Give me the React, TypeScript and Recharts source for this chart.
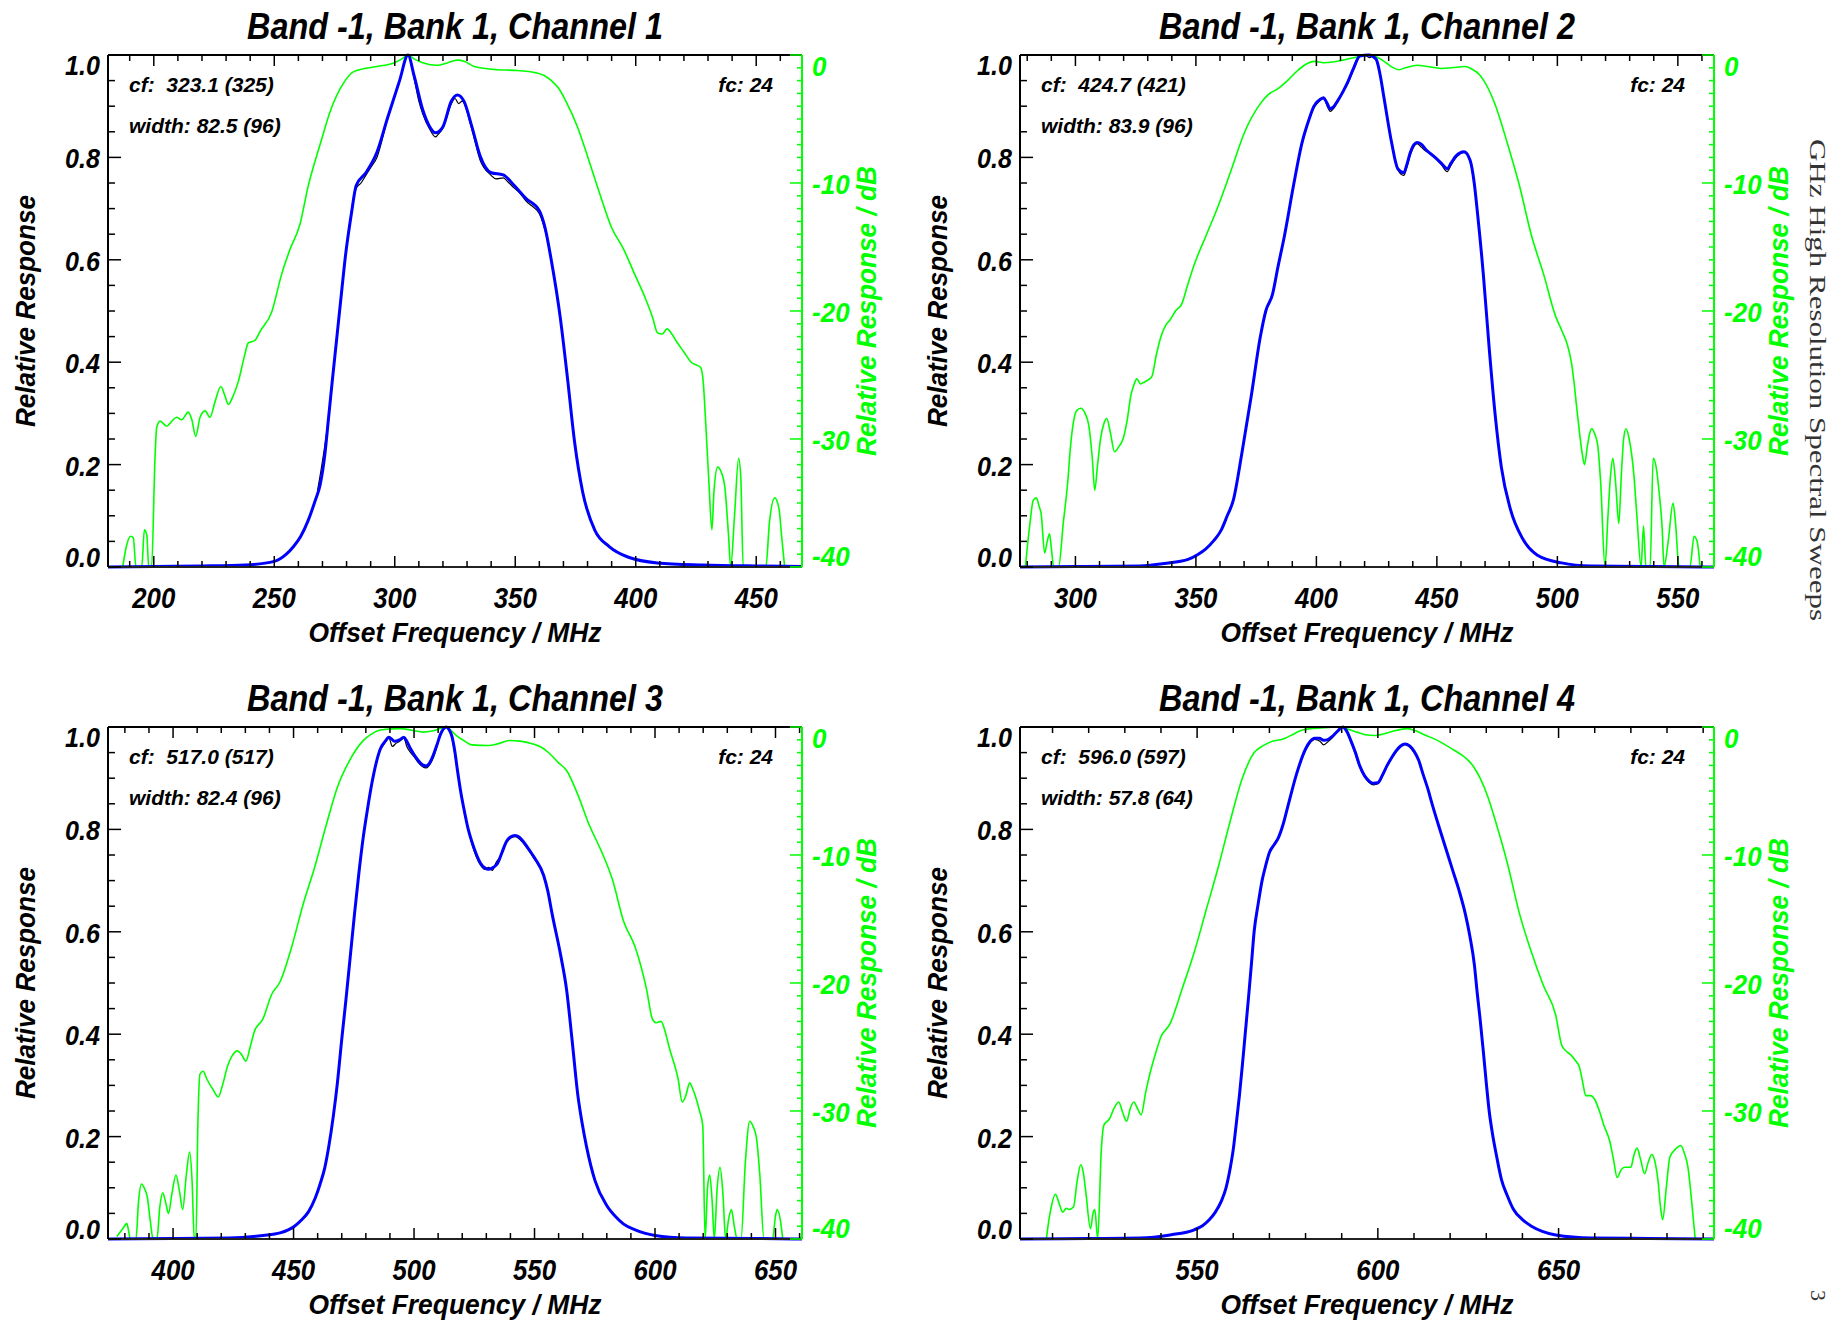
import React from 'react';
import { LineChart, Line, XAxis, YAxis } from 'recharts';

// ---------------- layout constants ----------------
const PANEL_W = 912;
const PANEL_H = 672;
const AX = 10; // axis band size given to each axis
const PLOT = { top: 55, left: 108, right: 110, bottom: 105 };
const M = { top: PLOT.top - AX, left: PLOT.left - AX, right: PLOT.right - AX, bottom: PLOT.bottom - AX };
const PLOT_W = PANEL_W - PLOT.left - PLOT.right;
const SANS = "'Liberation Sans', Arial, Helvetica, sans-serif";
const SERIF = "'Liberation Serif', 'Times New Roman', serif";
const GREEN = '#00ff00';
const BLUE = '#0000ff';

// ---------------- text / axes data ----------------
const titles = [
  'Band -1, Bank 1, Channel 1',
  'Band -1, Bank 1, Channel 2',
  'Band -1, Bank 1, Channel 3',
  'Band -1, Bank 1, Channel 4',
];
const cfLabels = ['cf:  323.1 (325)', 'cf:  424.7 (421)', 'cf:  517.0 (517)', 'cf:  596.0 (597)'];
const widthLabels = ['width: 82.5 (96)', 'width: 83.9 (96)', 'width: 82.4 (96)', 'width: 57.8 (64)'];
const fcLabels = ['fc: 24', 'fc: 24', 'fc: 24', 'fc: 24'];
const xDomains: [number, number][] = [
  [181, 469],
  [277, 565],
  [373, 661],
  [501, 693],
];
const xMajorTicks = [
  [200, 250, 300, 350, 400, 450],
  [300, 350, 400, 450, 500, 550],
  [400, 450, 500, 550, 600, 650],
  [550, 600, 650],
];
const xMinorStep = 10;
const yMajorTicks = [0, 0.2, 0.4, 0.6, 0.8, 1.0];
const yMinorStep = 0.05;
const dbMajorTicks = [-40, -30, -20, -10, 0];
const dbMinorStep = 1;
const xAxisTitle = 'Offset Frequency / MHz';
const yAxisTitle = 'Relative Response';
const dbAxisTitle = 'Relative Response / dB';
const sideText = 'GHz High Resolution Spectral Sweeps';
const pageNumber = '3';

type Pt = [number, number];

// ---------------- Channel 1 ----------------
const blue1: Pt[] = [
  [181, 0], [200, 0.001], [220, 0.002], [238, 0.004], [250, 0.011], [255, 0.025], [258, 0.04], [261, 0.06],
  [264, 0.09], [267, 0.13], [269, 0.16], [271, 0.22], [272.5, 0.29], [274, 0.36], [276, 0.45], [278, 0.54],
  [279.6, 0.61], [282, 0.69], [284, 0.745], [288, 0.77], [292.6, 0.81], [297, 0.877], [302, 0.95], [305.5, 1.0],
  [308, 0.96], [311.6, 0.893], [314.5, 0.86], [316.9, 0.848], [320, 0.86], [323.5, 0.91], [326, 0.922],
  [328.7, 0.91], [332, 0.86], [335.4, 0.803], [340, 0.77], [345, 0.766], [349.6, 0.745], [354.4, 0.72],
  [360, 0.696], [362.5, 0.66], [365, 0.598], [368.6, 0.49], [371.7, 0.368], [374.6, 0.245], [378, 0.146],
  [383, 0.072], [389, 0.04], [397, 0.019], [409, 0.008], [428, 0.004], [450, 0.002], [469, 0.001],
];
const black1: Pt[] = [
  [268, 0.15], [272.5, 0.29], [276, 0.45], [279.6, 0.61], [284, 0.74], [286, 0.75], [288, 0.765], [290, 0.78],
  [292.6, 0.8], [297, 0.875], [302, 0.948], [305.5, 1.0], [308, 0.955], [310, 0.91], [311.6, 0.885],
  [314.5, 0.855], [316.9, 0.84], [318, 0.845], [320, 0.857], [323.5, 0.905], [325, 0.915], [326.5, 0.905],
  [328, 0.91], [332, 0.855], [335.4, 0.795], [340, 0.765], [342, 0.758], [345, 0.76], [347, 0.752],
  [349.6, 0.74], [352, 0.73], [354.4, 0.715], [357, 0.705], [360, 0.69], [362.5, 0.655], [365, 0.598], [368.6, 0.49],
];
const green1: Pt[] = [
  [187.1, -40], [188.5, -38.5], [190.4, -37.6], [191.5, -37.7], [192.6, -40], [195, -40], [196.1, -37.1],
  [197.1, -37.5], [197.9, -40], [199.1, -40], [200.5, -31.5], [201.2, -29.1], [202.6, -28.6], [205.4, -29.0],
  [207.5, -28.6], [209.5, -28.3], [211.6, -28.5], [214.3, -27.9], [215.8, -28.5], [217.4, -29.8], [219.2, -28.3],
  [221.3, -27.8], [223.3, -28.3], [225.4, -27.1], [227.8, -25.9], [229.5, -26.6], [230.9, -27.3], [233, -26.6],
  [235.1, -25.5], [237.4, -23.7], [239.2, -22.5], [242, -22.3], [244.1, -21.6], [248.9, -20.1], [253.1, -17.1],
  [256.5, -15.2], [260.7, -13.2], [264, -10.3], [269, -7.0], [273.6, -4.2], [278.4, -2.3], [283, -1.3],
  [292.6, -0.9], [299.9, -0.6], [303, -0.3], [305.5, 0], [308, -0.3], [311.6, -0.6], [317.6, -0.8], [322, -0.6],
  [326, -0.4], [329, -0.5], [333, -0.9], [342.5, -1.15], [349.6, -1.2], [359, -1.4], [362, -1.6], [365, -2.0],
  [368, -2.6], [371, -3.6], [375.8, -5.6], [380.5, -8.2], [385, -10.8], [390, -13.5], [394.8, -15.1],
  [399.5, -17.1], [404, -19], [407, -20.5], [409, -21.7], [411, -21.8], [413, -21.4], [415, -21.8], [417, -22.4],
  [420, -23.2], [423, -24], [426.9, -24.4], [428, -25.5], [429, -28.6], [430.4, -33.5], [431.6, -37.1],
  [432.5, -34], [434, -32.2], [435.5, -32.6], [437, -33.8], [438.5, -37.5], [439.4, -40], [441, -36],
  [442.7, -31.5], [443.6, -33], [444.6, -40], [454, -40], [455.5, -36.5], [457.7, -34.6], [459.5, -35.5],
  [460.5, -37.5], [461.8, -40],
];

// ---------------- Channel 2 ----------------
const blue2: Pt[] = [
  [277, 0], [300, 0.001], [326.75, 0.002], [336.75, 0.007], [346.75, 0.015], [351, 0.025], [354, 0.035],
  [357.5, 0.052], [360.5, 0.072], [363, 0.1], [365.5, 0.13], [369, 0.22], [373, 0.335], [376.75, 0.45],
  [379, 0.5], [381.75, 0.532], [384, 0.585], [386.75, 0.647], [390.5, 0.745], [394, 0.828], [397, 0.875],
  [399, 0.9], [401.75, 0.914], [403, 0.916], [404.5, 0.905], [405.75, 0.895], [407, 0.898], [408.75, 0.91],
  [411, 0.928], [413, 0.947], [415.5, 0.975], [418, 0.998], [421.75, 1.0], [424.75, 0.992], [426.5, 0.96],
  [428, 0.918], [431.25, 0.828], [433.75, 0.778], [436.25, 0.77], [437.5, 0.785], [439, 0.81], [441.75, 0.829],
  [443.5, 0.826], [445.5, 0.815], [449.25, 0.8], [452, 0.788], [454.25, 0.778], [456, 0.79], [458, 0.803],
  [461.25, 0.811], [463.75, 0.795], [465.5, 0.75], [466.75, 0.696], [469.25, 0.573], [471.75, 0.425],
  [474.25, 0.294], [476.75, 0.195], [480.5, 0.113], [485.5, 0.056], [491.75, 0.023], [501.75, 0.008],
  [514, 0.002], [540, 0.001], [565, 0],
];
const black2: Pt[] = [
  [394, 0.826], [399, 0.897], [401.75, 0.912], [403, 0.918], [404.5, 0.9], [405.75, 0.89], [407, 0.895],
  [408.75, 0.908], [411, 0.93], [413, 0.944], [415.5, 0.972], [418, 0.997], [420, 1.0], [422, 0.995],
  [423.5, 0.998], [424.75, 0.99], [426.5, 0.958], [428, 0.915], [431.25, 0.826], [433.75, 0.776], [436.25, 0.765],
  [437.5, 0.78], [439, 0.805], [441.75, 0.827], [443.5, 0.82], [445.5, 0.812], [447.5, 0.808], [449.25, 0.799],
  [452, 0.785], [454.25, 0.772], [456, 0.786], [458, 0.8], [461.25, 0.81], [463.75, 0.793], [465.5, 0.75],
];
const green2: Pt[] = [
  [279.25, -40], [280, -38.5], [281, -36.8], [282.5, -34.8], [283.75, -34.6], [285, -35.3], [285.75, -35.8],
  [287.25, -38.9], [288.3, -38], [289.25, -37.4], [290, -38.5], [291, -40], [293, -40], [295, -36.5],
  [296.75, -33.5], [298, -30.5], [299.25, -28.6], [300.5, -27.8], [302.25, -27.6], [304, -28], [305.5, -28.9],
  [307, -31.5], [308, -34], [309.2, -32], [310.5, -29.9], [311.8, -28.8], [313, -28.4], [314.5, -29.5],
  [316.25, -31], [318, -30.6], [319.75, -30], [321.5, -28.5], [323, -26.6], [324.2, -25.8], [325.5, -25.3],
  [327, -25.7], [328, -25.6], [330, -25.4], [331.75, -25.1], [333.5, -23.5], [335.5, -22], [337.5, -21.1],
  [339.25, -20.7], [341.5, -20], [344.25, -19.4], [346.5, -18], [349.25, -16.4], [354.25, -14.1],
  [359.25, -11.8], [364.25, -9.2], [370.5, -5.9], [376.75, -3.8], [380, -3.1], [384.25, -2.6], [388, -2.0],
  [391.75, -1.3], [395, -0.8], [399.25, -0.5], [403, -0.6], [406.75, -0.55], [411, -0.4], [416.75, -0.15],
  [421, 0], [424.25, -0.1], [426.5, -0.3], [429.25, -0.65], [431.5, -0.95], [434.25, -1.15], [437, -1.0],
  [441.75, -0.8], [446, -0.9], [451.75, -1.05], [456, -1.0], [461.75, -0.9], [464.5, -1.1], [468, -1.6],
  [471, -2.5], [474.25, -3.9], [479.25, -6.9], [484.25, -10.2], [489.25, -14.1], [494.25, -17.1],
  [499.25, -20.4], [502, -21.6], [504.25, -22.7], [505.8, -24], [506.75, -25.3], [508, -27.5], [509.25, -29.6],
  [510.2, -31], [511.25, -32], [512.5, -30.5], [513.5, -29.5], [514.25, -29.2], [515.5, -29.6], [516.75, -30.5],
  [518, -33.5], [519.75, -40], [521, -36], [522, -33], [523, -31.5], [524.2, -33.5], [525.5, -36.6], [526.5, -33],
  [527.5, -30], [528.5, -29.2], [529.8, -30], [531.75, -32.8], [533, -36], [534.75, -40], [535.75, -36.8],
  [536.75, -40], [538.5, -40], [539.75, -31.5], [541, -32.2], [542.25, -34.2], [543.5, -37], [544.25, -40],
  [546, -38], [548, -35], [549, -36.5], [550.5, -40], [555, -40], [556.75, -37.6], [558, -38], [559.25, -40],
];

// ---------------- Channel 3 ----------------
const blue3: Pt[] = [
  [373, 0], [400, 0.001], [423, 0.002], [437.3, 0.007], [444.4, 0.012], [450.4, 0.025], [453.5, 0.038],
  [456.3, 0.054], [459, 0.08], [461, 0.107], [463, 0.14], [464.6, 0.18], [466.5, 0.24], [468.2, 0.305],
  [470, 0.39], [471.8, 0.47], [473.5, 0.55], [475.3, 0.635], [477, 0.71], [478.9, 0.784], [480.7, 0.84],
  [482.5, 0.89], [484.3, 0.93], [486, 0.957], [488, 0.972], [489.6, 0.98], [492, 0.972], [494, 0.975],
  [495.8, 0.98], [497, 0.972], [498.6, 0.957], [501.5, 0.936], [503.5, 0.926], [505, 0.924], [506.5, 0.93],
  [508, 0.945], [509.5, 0.965], [511, 0.986], [513.4, 1.0], [514.5, 0.995], [515.7, 0.982], [517, 0.95],
  [518, 0.916], [519.5, 0.87], [521, 0.833], [522.5, 0.8], [524, 0.776], [525.8, 0.752], [527.6, 0.734],
  [529.3, 0.725], [531, 0.722], [533, 0.726], [534.7, 0.734], [536.5, 0.755], [538.3, 0.776], [540, 0.785],
  [541.9, 0.788], [543.6, 0.785], [545.4, 0.776], [547.8, 0.76], [550.2, 0.743], [553.8, 0.71], [555.5, 0.68],
  [557.3, 0.635], [560.9, 0.553], [563.3, 0.487], [565.6, 0.388], [568, 0.28], [569.8, 0.225], [571.6, 0.18],
  [575.1, 0.114], [579.9, 0.066], [584, 0.042], [587, 0.029], [591.8, 0.018], [596, 0.011], [600, 0.007],
  [613, 0.002], [640, 0.001], [661, 0],
];
const black3: Pt[] = [
  [486, 0.955], [488, 0.97], [489.6, 0.978], [491, 0.962], [492.5, 0.968], [494, 0.972], [495.8, 0.978],
  [497, 0.962], [498.6, 0.95], [500, 0.942], [501.5, 0.932], [505, 0.92], [508, 0.94], [511, 0.984], [513.4, 1.0],
  [515.7, 0.98], [518, 0.914], [521, 0.83], [524, 0.772], [527.6, 0.73], [529.3, 0.722], [531, 0.726],
  [532.5, 0.72], [534, 0.735], [536.5, 0.752], [538.3, 0.774], [541.9, 0.786], [545.4, 0.773], [550.2, 0.74],
];
const green3: Pt[] = [
  [376.7, -39.8], [379.1, -39.2], [380.8, -38.8], [381.6, -39.4], [382.2, -40], [384.6, -40], [385.7, -37],
  [386.9, -35.7], [388, -36], [389.3, -36.7], [390.5, -38.5], [391.7, -40], [393.3, -40], [394.5, -37.5],
  [395.7, -36.4], [397, -37.2], [398.1, -38.0], [399.5, -36.5], [401.2, -35.0], [402.6, -36.2], [404, -37.7],
  [405.5, -35], [406.9, -33.2], [407.9, -35.5], [408.8, -40], [409.5, -40], [410.3, -31], [411.2, -27.1],
  [412.5, -26.9], [414, -27.5], [416.5, -28.3], [418.8, -28.9], [420.5, -28], [422.6, -26.5], [424.5, -25.7],
  [426.6, -25.3], [428.5, -25.6], [430.2, -26.1], [432, -25], [433.7, -23.8], [437.3, -22.8], [440.9, -20.9],
  [444.4, -19.9], [449.2, -17.2], [453.9, -13.9], [458.7, -11.0], [463.5, -7.7], [468.2, -4.7], [473, -2.7],
  [478.9, -1.06], [482, -0.6], [486, -0.23], [494.3, -0.13], [499, -0.25], [503.8, -0.4], [508, -0.3],
  [513.4, 0], [515.5, -0.3], [518, -0.73], [521, -1.1], [524, -1.4], [531, -1.45], [535, -1.3], [539.5, -1.06],
  [544, -1.1], [549, -1.3], [553, -1.6], [556.1, -2.05], [560, -2.8], [563.3, -3.4], [568, -5.3], [572.8, -7.7],
  [577.5, -9.6], [582.3, -11.9], [587, -15.2], [591.8, -17.2], [596.5, -20.5], [598.9, -22.8], [600.5, -23.1],
  [602.5, -23.0], [604.5, -24], [606, -25.1], [609.6, -27.5], [611.3, -29.3], [612.8, -28.8], [614.4, -27.8],
  [615.5, -28.2], [616.7, -28.8], [618.5, -30], [619.8, -31.1], [620.8, -40], [621.8, -36], [622.7, -35.0],
  [623.7, -37], [624.6, -40], [625.8, -36], [627, -34.4], [628.2, -36.5], [629.3, -40], [630.5, -38.5],
  [631.7, -37.7], [632.9, -39], [634.1, -40], [635.7, -40], [637.5, -34], [639.3, -30.8], [640.7, -31.2],
  [642.1, -32.1], [643.5, -35], [645.2, -40], [648.8, -40], [650, -38.2], [650.7, -37.7], [652, -38.5], [653, -40],
];

// ---------------- Channel 4 ----------------
const blue4: Pt[] = [
  [501, 0], [520, 0.001], [534.2, 0.002], [542.5, 0.008], [549.2, 0.018], [551.5, 0.026], [553.3, 0.037],
  [555, 0.052], [556.7, 0.074], [558, 0.1], [559.2, 0.14], [560, 0.175], [560.8, 0.223], [561.7, 0.28],
  [562.5, 0.338], [563.3, 0.4], [564.2, 0.47], [565, 0.535], [565.8, 0.602], [566.9, 0.655], [568, 0.701],
  [569, 0.73], [570, 0.755], [571.3, 0.77], [572.5, 0.784], [573.8, 0.81], [575, 0.842], [577.5, 0.908],
  [580, 0.957], [581.3, 0.972], [582.5, 0.978], [583.8, 0.978], [585, 0.974], [586.3, 0.976], [587.5, 0.982],
  [589, 0.993], [590.3, 1.0], [591.3, 0.993], [592.5, 0.974], [593.8, 0.95], [595, 0.924], [596.3, 0.905],
  [597.5, 0.895], [598.8, 0.89], [600, 0.891], [601.2, 0.905], [602.5, 0.924], [603.8, 0.94], [605, 0.953],
  [606.3, 0.963], [607.5, 0.967], [608.8, 0.963], [610, 0.953], [611.3, 0.935], [612.5, 0.908], [613.8, 0.88],
  [615, 0.85], [617.5, 0.792], [620.8, 0.718], [622.5, 0.68], [624.2, 0.635], [625.5, 0.59], [626.7, 0.536],
  [627.5, 0.48], [628.3, 0.429], [629.2, 0.365], [630, 0.305], [630.8, 0.25], [631.7, 0.206], [632.9, 0.16],
  [634.2, 0.116], [635.8, 0.085], [637.5, 0.058], [640, 0.038], [642.5, 0.025], [645.5, 0.015], [649.2, 0.008],
  [659.2, 0.002], [675, 0.001], [693, 0],
];
const black4: Pt[] = [
  [580, 0.955], [582.5, 0.976], [584, 0.972], [585, 0.965], [586.3, 0.972], [587.5, 0.98], [590.3, 1.0],
  [592.5, 0.972], [595, 0.922], [597.5, 0.892], [598.8, 0.887], [600, 0.889], [602.5, 0.922], [605, 0.951],
  [607.5, 0.966], [610, 0.951],
];
const green4: Pt[] = [
  [508.3, -40], [509, -38.5], [509.5, -37.7], [510.8, -36.5], [511.8, -37.2], [512.8, -37.9], [513.8, -37.6],
  [514.5, -37.7], [515.8, -37.5], [516.8, -35.5], [517.8, -34.2], [518.5, -34.8], [519.2, -36.3], [520.5, -39.2],
  [521.2, -38], [521.7, -37.7], [522.5, -40], [523.5, -33], [524.2, -31.1], [525.8, -30.6], [527, -29.8],
  [528.3, -29.3], [529.5, -30.2], [530.5, -30.8], [531.5, -29.8], [532.5, -29.3], [533.5, -29.8], [534.5, -30.3],
  [535.8, -28.5], [537.2, -26.8], [538.5, -25.5], [540, -24.2], [542.5, -23.2], [545.8, -20.5], [549.2, -17.6],
  [552.5, -14.3], [555.8, -11.0], [559.2, -7.3], [562.5, -4.0], [565.8, -2.0], [568, -1.5], [570, -1.2],
  [574.2, -0.9], [577, -0.5], [579.2, -0.23], [584.2, -0.07], [590.3, 0], [592, -0.2], [594.2, -0.4],
  [596.5, -0.6], [599.2, -0.66], [601.5, -0.55], [604.2, -0.33], [608.3, -0.13], [610.5, -0.3], [612.5, -0.56],
  [615, -0.85], [617.5, -1.2], [621, -1.8], [624.2, -2.4], [626.5, -3.1], [628.3, -4.0], [630.5, -5.5],
  [632.5, -7.3], [635.8, -10.6], [639.2, -14.6], [642.5, -17.6], [645.8, -20.2], [649.2, -22.5], [650.8, -24.8],
  [652, -25.3], [653.3, -25.6], [654.5, -26], [655.8, -26.6], [656.7, -27.8], [657.5, -28.8], [658.8, -28.8],
  [660, -29.1], [661.3, -30], [662.5, -31.1], [664.2, -32.4], [665.2, -33.8], [666.2, -35.2], [667.3, -34.6],
  [668.3, -34.4], [670, -34.4], [670.8, -33.5], [671.7, -32.9], [672.7, -33.8], [673.8, -34.9], [674.8, -34],
  [675.8, -33.4], [676.7, -34], [677.5, -35.4], [678.2, -37.5], [678.8, -38.5], [679.8, -36], [680.8, -33.6],
  [682.3, -33], [683.8, -32.7], [684.8, -33.3], [685.8, -34.4], [686.8, -37], [687.8, -40],
];

const blueSeries = [blue1, blue2, blue3, blue4];
const blackSeries = [black1, black2, black3, black4];
const greenSeries = [green1, green2, green3, green4];
const panelPos: [number, number][] = [
  [0, 0],
  [912, 0],
  [0, 672],
  [912, 672],
];

// ---------------- helpers ----------------
const toRows = (pts: Pt[]) => pts.map(([f, v]) => ({ f, v }));
const stepTicks = (lo: number, hi: number, step: number) => {
  const out: number[] = [];
  const start = Math.ceil(lo / step - 1e-9);
  for (let i = start; i * step <= hi + 1e-9; i++) out.push(+(i * step).toFixed(4));
  return out;
};
const near = (a: number, list: number[]) => list.some((b) => Math.abs(a - b) < 1e-6);
const fontStyle = (size: number, color = '#000'): React.CSSProperties => ({
  fontFamily: SANS,
  fontWeight: 700,
  fontStyle: 'italic',
  fontSize: size,
  fill: color,
});

const makeXTick = (labels: number[], dir: 1 | -1, showLabels: boolean) => (p: any) => {
  const { x, y, payload } = p;
  const v = payload.value as number;
  const major = Math.abs(v % 50) < 1e-6;
  return (
    <g>
      <line x1={x} x2={x} y1={y} y2={y + dir * (major ? 11 : 6)} stroke="#000" strokeWidth={1.5} />
      {showLabels && near(v, labels) && (
        <text transform={`translate(${x},${y + 41}) scale(0.86,1)`} textAnchor="middle" style={fontStyle(30)}>
          {v}
        </text>
      )}
    </g>
  );
};

const LeftTick = (p: any) => {
  const { x, y, payload } = p;
  const v = payload.value as number;
  const major = near(v, yMajorTicks);
  let by = y + 11;
  if (Math.abs(v - 1) < 1e-6) by = y + 19.5;
  if (Math.abs(v) < 1e-6) by = y;
  return (
    <g>
      <line x1={x} x2={x + (major ? 13 : 7)} y1={y} y2={y} stroke="#000" strokeWidth={1.5} />
      {major && (
        <text transform={`translate(${x - 8},${by}) scale(0.93,1)`} textAnchor="end" style={fontStyle(27)}>
          {v.toFixed(1)}
        </text>
      )}
    </g>
  );
};

const RightTick = (p: any) => {
  const { x, y, payload } = p;
  const v = payload.value as number;
  const major = near(v, dbMajorTicks);
  let by = y + 11;
  if (Math.abs(v) < 1e-6) by = y + 20.5;
  if (Math.abs(v + 40) < 1e-6) by = y - 1;
  return (
    <g>
      <line x1={x} x2={x - (major ? 12 : 5)} y1={y} y2={y} stroke={GREEN} strokeWidth={1.5} />
      {major && (
        <text transform={`translate(${x + 10},${by}) scale(0.93,1)`} textAnchor="start" style={fontStyle(28, GREEN)}>
          {v}
        </text>
      )}
    </g>
  );
};

function Panel({ i }: { i: number }) {
  const [left, top] = panelPos[i];
  const domain = xDomains[i];
  const xTicks = stepTicks(domain[0], domain[1], xMinorStep);
  const yTicks = stepTicks(0, 1, yMinorStep);
  const dbTicks = stepTicks(-40, 0, dbMinorStep);
  const cx = PLOT.left + PLOT_W / 2;
  return (
    <div style={{ position: 'absolute', left, top, width: PANEL_W, height: PANEL_H }}>
      <LineChart width={PANEL_W} height={PANEL_H} margin={M}>
        <XAxis
          xAxisId="b"
          type="number"
          dataKey="f"
          domain={domain}
          allowDataOverflow
          ticks={xTicks}
          interval={0}
          height={AX}
          tickSize={0}
          tickMargin={0}
          tickLine={false}
          axisLine={{ stroke: '#222', strokeWidth: 2 }}
          tick={makeXTick(xMajorTicks[i], -1, true)}
        />
        <XAxis
          xAxisId="t"
          orientation="top"
          type="number"
          dataKey="f"
          domain={domain}
          allowDataOverflow
          ticks={xTicks}
          interval={0}
          height={AX}
          tickSize={0}
          tickMargin={0}
          tickLine={false}
          axisLine={{ stroke: '#000', strokeWidth: 2 }}
          tick={makeXTick(xMajorTicks[i], 1, false)}
        />
        <YAxis
          yAxisId="l"
          type="number"
          domain={[0, 1]}
          ticks={yTicks}
          interval={0}
          width={AX}
          tickSize={0}
          tickMargin={0}
          tickLine={false}
          axisLine={{ stroke: '#000', strokeWidth: 2 }}
          tick={LeftTick}
        />
        <YAxis
          yAxisId="r"
          orientation="right"
          type="number"
          domain={[-40, 0]}
          ticks={dbTicks}
          interval={0}
          width={AX}
          tickSize={0}
          tickMargin={0}
          tickLine={false}
          axisLine={{ stroke: GREEN, strokeWidth: 2 }}
          tick={RightTick}
        />
        <Line
          xAxisId="b"
          yAxisId="r"
          data={toRows(greenSeries[i])}
          dataKey="v"
          type="monotone"
          stroke={GREEN}
          strokeWidth={1.6}
          dot={false}
          isAnimationActive={false}
        />
        <Line
          xAxisId="b"
          yAxisId="l"
          data={toRows(blackSeries[i])}
          dataKey="v"
          type="monotone"
          stroke="#000"
          strokeWidth={1.2}
          dot={false}
          isAnimationActive={false}
        />
        <Line
          xAxisId="b"
          yAxisId="l"
          data={toRows(blueSeries[i])}
          dataKey="v"
          type="monotone"
          stroke={BLUE}
          strokeWidth={3}
          dot={false}
          isAnimationActive={false}
        />
      </LineChart>
      <svg
        width={PANEL_W}
        height={PANEL_H}
        style={{ position: 'absolute', left: 0, top: 0, pointerEvents: 'none' }}
      >
        <text x={cx} y={38.5} textAnchor="middle" textLength={416} lengthAdjust="spacingAndGlyphs" style={fontStyle(36.6)}>
          {titles[i]}
        </text>
        <text x={cx} y={642} textAnchor="middle" textLength={293} lengthAdjust="spacingAndGlyphs" style={fontStyle(28.5)}>
          {xAxisTitle}
        </text>
        <text
          transform="translate(35,311) rotate(-90)"
          textAnchor="middle"
          textLength={232}
          lengthAdjust="spacingAndGlyphs"
          style={fontStyle(28)}
        >
          {yAxisTitle}
        </text>
        <text
          transform="translate(876,311) rotate(-90)"
          textAnchor="middle"
          textLength={290}
          lengthAdjust="spacingAndGlyphs"
          style={fontStyle(27, GREEN)}
        >
          {dbAxisTitle}
        </text>
        <text x={129} y={91.5} style={{ ...fontStyle(21), whiteSpace: 'pre' }}>
          {cfLabels[i]}
        </text>
        <text x={129} y={132.5} style={{ ...fontStyle(21), whiteSpace: 'pre' }}>
          {widthLabels[i]}
        </text>
        <text x={773} y={91.5} textAnchor="end" style={fontStyle(21)}>
          {fcLabels[i]}
        </text>
      </svg>
    </div>
  );
}

export default function App() {
  return (
    <div style={{ position: 'absolute', left: 0, top: 0, width: 1845, height: 1323, background: '#fff' }}>
      {[0, 1, 2, 3].map((i) => (
        <Panel key={i} i={i} />
      ))}
      <svg width={1845} height={1323} style={{ position: 'absolute', left: 0, top: 0, pointerEvents: 'none' }}>
        <text
          transform="translate(1810,139) rotate(90)"
          textLength={482}
          lengthAdjust="spacingAndGlyphs"
          style={{ fontFamily: SERIF, fontSize: 23, fill: '#333' }}
        >
          {sideText}
        </text>
        <text transform="translate(1811,1290) rotate(90)" style={{ fontFamily: SERIF, fontSize: 22, fill: '#333' }}>
          {pageNumber}
        </text>
      </svg>
    </div>
  );
}
